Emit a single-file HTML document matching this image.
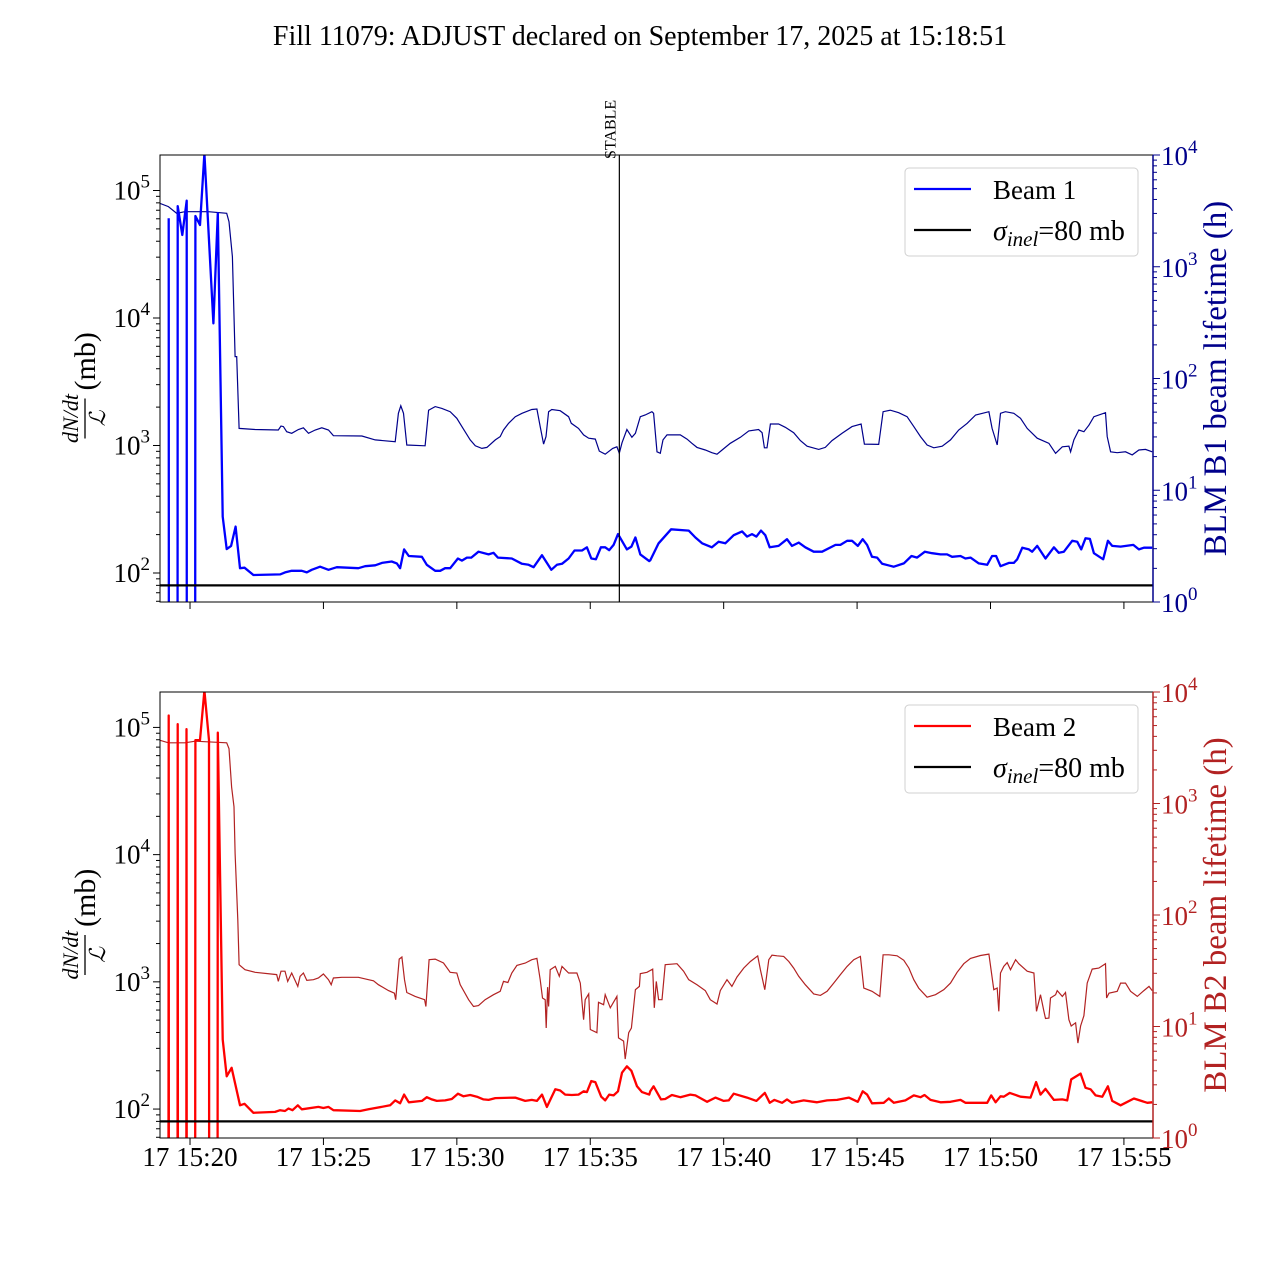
<!DOCTYPE html>
<html><head><meta charset="utf-8"><style>
html,body{margin:0;padding:0;background:#fff;width:1280px;height:1280px;overflow:hidden}
svg{display:block;font-family:"Liberation Serif","DejaVu Serif",serif}
</style></head><body>
<svg id="chart" width="1280" height="1280" viewBox="0 0 1280 1280" xmlns="http://www.w3.org/2000/svg">
<defs>
<clipPath id="clipTop"><rect x="160" y="155" width="993" height="447"/></clipPath>
<clipPath id="clipBot"><rect x="160" y="692" width="993" height="446"/></clipPath>
</defs>
<text x="640" y="45" font-size="28" text-anchor="middle">Fill 11079: ADJUST declared on September 17, 2025 at 15:18:51</text>
<g id="layer"></g>
</svg>
<script>
// time in minutes after 15:20:00
const tickMinutes=[0,5,10,15,20,25,30,35];
const tickLabels=["17 15:20","17 15:25","17 15:30","17 15:35","17 15:40","17 15:45","17 15:50","17 15:55"];
const sigmaInel=80;
const stableTime=16.09;
const b1RateT=[-0.8,-0.79,-0.47,-0.46,-0.29,-0.125,-0.12,0.19,0.2,0.375,0.54,0.875,1.04,1.225,1.375,1.54,1.71,1.875,2.04,2.375,3.375,3.56,3.81,4.19,4.375,4.56,4.875,5.19,5.5,6.31,6.56,6.94,7.19,7.56,7.75,7.875,8.025,8.2,8.69,8.875,9.19,9.375,9.56,9.75,10.04,10.19,10.375,10.54,10.81,11.19,11.375,11.54,12.06,12.44,12.69,12.875,13.19,13.54,13.75,13.94,14.19,14.41,14.69,14.875,15.04,15.21,15.4,15.56,15.71,15.875,16.04,16.375,16.54,16.69,16.875,17.21,17.25,17.56,18.03,18.69,18.94,19.19,19.56,19.81,20.06,20.375,20.69,20.875,21.06,21.225,21.4,21.56,21.725,22.06,22.375,22.56,22.81,23.06,23.375,23.69,24.19,24.375,24.625,24.81,25.025,25.21,25.375,25.56,25.75,25.94,26.375,26.75,27.04,27.25,27.54,27.81,28.125,28.375,28.56,28.875,29.06,29.25,29.56,29.875,30.06,30.21,30.375,30.69,30.875,31.0,31.19,31.44,31.56,31.75,32.06,32.375,32.56,32.75,33.06,33.25,33.4,33.56,33.725,33.875,34.225,34.4,34.56,34.875,35.35,35.56,35.75,36.06];
const b1RateV=[60500,1,1,75500,44800,83200,1,1,63100,53600,195000,9080,66200,277,154,163,231,109,110,96.5,97.5,101,104,104,101,106,112,106,111,109,113,115,120,123,119,109,153,136,134,116,104,104,109,109,130,125,132,132,147,140,144,132,130,118,116,111,138,106,116,118,130,150,150,159,130,128,159,159,151,166,202,153,161,190,140,124,126,171,220,215,190,171,159,176,171,198,212,193,202,193,215,198,159,163,184,163,173,159,147,147,166,166,179,179,163,184,166,134,132,118,112,119,136,132,147,143,140,140,134,136,130,132,119,116,136,136,113,120,120,128,158,153,147,163,130,159,144,147,179,176,153,187,185,143,128,179,163,161,166,153,158,158];
const b1LifeT=[-1.125,-0.81,-0.5,-0.19,0.69,1.375,1.46,1.59,1.69,1.75,1.84,2.44,3.31,3.41,3.5,3.625,3.81,4.06,4.25,4.44,4.69,4.94,5.19,5.375,6.44,6.94,7.69,7.81,7.9,8.0,8.125,8.81,8.94,9.19,9.44,9.75,10.0,10.19,10.5,10.69,10.94,11.125,11.44,11.625,11.75,11.94,12.19,12.44,12.81,13.0,13.125,13.25,13.34,13.44,13.56,13.875,14.19,14.29,14.56,14.75,14.94,15.19,15.34,15.56,15.84,16.0,16.09,16.19,16.375,16.56,16.69,16.875,17.06,17.31,17.375,17.5,17.625,17.725,17.875,18.375,18.625,18.81,19.0,19.31,19.56,19.75,19.94,20.25,20.625,20.94,21.31,21.44,21.525,21.625,21.75,22.06,22.31,22.625,22.875,23.125,23.56,23.81,24.06,24.44,24.81,25.15,25.275,25.81,25.975,26.25,26.56,26.875,27.125,27.375,27.625,27.875,28.19,28.5,28.81,29.125,29.44,29.94,30.06,30.25,30.375,30.56,30.875,31.125,31.375,31.75,32.19,32.44,32.69,32.94,33.0,33.125,33.31,33.5,33.69,33.875,34.31,34.375,34.5,34.75,35.06,35.31,35.56,35.81,36.06];
const b1LifeV=[3690,3450,3010,3110,3110,3010,2530,1230,157,157,35.8,35,34.6,37.6,37.1,33.4,32.3,35,36.2,32.3,34.6,36.2,34.6,30.8,30.6,28.2,27.2,48.8,57,48.8,25.4,25,52,56,54,50.5,44,37.1,28.2,25,23.7,24.2,28.2,30.2,34.6,39.7,45.5,48.8,52.8,53.3,37.1,25.9,30.2,50.5,52.8,51.5,45.5,39.7,35.8,31.3,29.2,28.7,22.4,21,23.7,24.5,21.4,26.6,35,29.8,32.3,45.5,47.1,50.5,48.8,22.1,21.4,28.2,31.3,31.3,28.7,26.3,24.2,22.9,21.7,21,22.9,26.3,29.8,34,35,32.7,24,24,39.2,39.2,36.6,32.7,27.8,24.8,23.2,24.2,27.8,32.3,37.1,39.2,25.9,25.7,50.5,52,49.4,45.5,37.1,30.2,25.4,24,24.8,28.2,34.6,39.7,47.1,50.5,35.8,25.4,48.8,50.5,48.8,44,35.8,29.2,26.3,21.4,24.5,24.8,22.1,28.2,34.6,33.4,38.3,45.5,49.4,30.2,22.1,21.7,22.1,20.7,22.9,23.2,22.1];
const b2RateT=[-0.81,-0.8,-0.79,-0.47,-0.46,-0.45,-0.14,-0.13,-0.12,0.19,0.2,0.375,0.54,0.71,0.72,1.03,1.04,1.225,1.375,1.56,1.875,2.04,2.375,3.19,3.375,3.56,3.69,3.84,4.04,4.19,4.81,5.0,5.19,5.375,6.375,6.69,7.5,7.69,7.875,8.025,8.2,8.69,8.875,9.06,9.25,9.56,9.81,10.04,10.25,10.5,10.75,11.0,11.19,11.44,12.19,12.56,12.81,13.0,13.19,13.375,13.69,13.875,14.06,14.31,14.56,14.75,14.875,15.04,15.19,15.41,15.56,15.71,15.875,16.04,16.19,16.375,16.54,16.75,16.94,17.21,17.25,17.375,17.65,17.81,18.06,18.375,18.75,18.94,19.375,19.69,20.0,20.19,20.375,20.875,21.225,21.54,21.725,21.9,22.19,22.375,22.56,23.0,23.5,23.875,24.25,24.69,25.025,25.21,25.375,25.56,26.0,26.19,26.375,26.81,27.125,27.375,27.525,27.75,28.125,28.5,28.875,29.06,29.875,30.025,30.19,30.375,30.5,30.725,31.125,31.5,31.71,31.875,32.06,32.375,32.69,32.875,33.025,33.375,33.56,33.75,33.94,34.19,34.4,34.56,34.875,35.06,35.375,35.875,36.06];
const b2RateV=[1,124000,1,1,106000,1,1,96900,1,1,79300,79300,195000,79300,1,1,90800,352,181,211,107,110,93.5,95,98,96.5,101,98,107,99.5,104,102,104,98,96.5,99.5,107,117,111,130,113,116,124,119,116,117,120,132,126,129,125,119,118,122,123,116,118,116,130,104,143,140,130,129,130,138,136,166,163,125,117,130,128,138,193,217,200,151,136,130,138,151,119,120,129,124,130,128,114,123,116,117,132,123,116,134,112,118,112,119,112,117,113,117,118,123,114,138,130,111,112,121,112,117,128,124,129,118,113,114,118,112,112,128,113,126,125,134,125,123,163,130,144,118,119,117,171,190,147,143,128,125,151,116,107,112,121,112,113];
const b2LifeT=[-1.125,-0.81,-0.19,0.19,1.375,1.46,1.56,1.65,1.69,1.79,1.84,2.06,2.44,3.25,3.31,3.41,3.56,3.66,3.81,4.04,4.125,4.25,4.375,4.625,4.81,5.0,5.19,5.29,5.375,5.69,6.31,6.69,6.875,7.06,7.44,7.66,7.71,7.84,7.94,8.04,8.125,8.44,8.79,8.84,8.96,9.19,9.5,9.75,10.0,10.125,10.44,10.625,10.81,11.06,11.375,11.625,11.75,11.915,12.06,12.25,12.44,12.56,12.81,13.0,13.125,13.21,13.31,13.35,13.4,13.44,13.5,13.69,13.84,13.94,14.19,14.5,14.625,14.75,14.81,14.94,15.0,15.25,15.31,15.5,15.56,15.75,16.0,16.06,16.25,16.31,16.44,16.54,16.69,16.84,16.875,17.125,17.34,17.4,17.475,17.56,17.69,17.81,18.25,18.5,18.69,19.0,19.31,19.5,19.75,19.875,20.125,20.31,20.5,20.75,21.0,21.275,21.375,21.54,21.69,21.81,22.0,22.25,22.44,22.625,22.81,23.06,23.375,23.625,23.875,24.125,24.375,24.625,24.875,25.125,25.25,25.56,25.85,25.975,26.19,26.5,26.75,26.94,27.125,27.31,27.625,27.94,28.25,28.5,28.75,29.0,29.25,29.625,29.94,30.125,30.25,30.31,30.375,30.5,30.625,30.75,30.94,31.06,31.375,31.625,31.725,31.875,32.0,32.06,32.19,32.25,32.44,32.5,32.69,32.81,32.94,33.025,33.19,33.275,33.375,33.5,33.625,33.81,34.06,34.31,34.35,34.44,34.75,34.875,35.06,35.25,35.5,35.75,35.94,36.06];
const b2LifeV=[3690,3500,3500,3620,3500,3110,1410,935,357,90.5,35.8,32.3,30.6,29.2,25.4,31.3,31.3,25.4,30.2,22.9,28.2,30.2,25.9,26.3,27.2,29.6,26.3,23.7,27.2,27.6,27.6,26.3,25.7,23.7,21,19.9,17.4,40.2,42,26.3,20.2,18.6,17.4,15.1,39.7,40.2,37.1,30.6,30.2,23.7,17.4,15.1,15.4,17.4,19.3,20.7,25.4,24.8,30.2,35.3,36.4,37,39.7,40.8,26.3,18,17.4,9.7,22.5,15.1,32.3,34.6,28.2,34.6,30.2,30.2,24.5,11.5,17.4,19.6,9.4,8.8,16.5,15.7,19.3,14.7,18.6,7.9,7.4,5.1,8.8,9.7,21.4,22.9,29.8,30.6,32.7,14.7,25.4,17.4,17.4,35.8,36.6,31.3,26.3,23.7,21,17.4,15.9,21,26.3,22.9,27.8,33.4,38.3,43,32.3,21.4,39.7,43.7,43.1,42.5,38.3,33.4,28.2,23.7,19.6,19,20.7,24.5,29.2,34.6,39.7,42.5,22.1,20.7,18.6,44,44,43.1,39.2,33.4,26.3,22.1,18.3,19.3,21.4,24.5,30.6,36.6,40.8,43.3,44.6,21.4,22.1,13.7,30.2,34.6,37.4,32.3,39.7,36.6,31.3,30.2,13.7,19.3,13.7,11.8,11.9,18,19.3,21,18.6,20.2,11.5,10.1,10.8,7.1,10.1,12.5,24.5,32.7,33.4,36.6,18,19.9,20.7,24.5,24.5,20.7,18.6,21,22.9,21];

const NS="http://www.w3.org/2000/svg";
const layer=document.getElementById('layer');
const X0=160,X1=1153,T0=-1.125,T1=36.09;
function xs(t){return X0+(t-T0)*(X1-X0)/(T1-T0);}
function mk(tag,attrs,parent){const e=document.createElementNS(NS,tag);for(const k in attrs)e.setAttribute(k,attrs[k]);(parent||layer).appendChild(e);return e;}
const panels=[
 {top:155,bot:602,lMin:1.7725,lMax:5.2784,rColor:"#00008b",rate:[b1RateT,b1RateV],life:[b1LifeT,b1LifeV],rc:"#0000ff",lc:"#00008b",label:"BLM B1 beam lifetime (h)",legend:"Beam 1",clip:"clipTop",name:"beam1"},
 {top:692,bot:1138,lMin:1.7725,lMax:5.2784,rColor:"#b22222",rate:[b2RateT,b2RateV],life:[b2LifeT,b2LifeV],rc:"#ff0000",lc:"#b22222",label:"BLM B2 beam lifetime (h)",legend:"Beam 2",clip:"clipBot",name:"beam2"}
];
panels.forEach((p,pi)=>{
 const yl=v=>p.bot-(Math.log10(Math.max(v,1e-3))-p.lMin)*(p.bot-p.top)/(p.lMax-p.lMin);
 const yr=v=>p.bot-Math.log10(v)*(p.bot-p.top)/4;
 const g=mk('g',{});
 
 
 const lp=p.life[0].map((t,i)=>(i?'L':'M')+xs(t).toFixed(1)+','+yr(p.life[1][i]).toFixed(1)).join('');
 const l1=mk('path',{d:lp,fill:'none',stroke:p.lc,'stroke-width':1.2,'clip-path':'url(#'+p.clip+')'},g);
 
 
 const rp=p.rate[0].map((t,i)=>(i?'L':'M')+xs(t).toFixed(1)+','+yl(p.rate[1][i]).toFixed(1)).join('');
 const l2=mk('path',{d:rp,fill:'none',stroke:p.rc,'stroke-width':2.3,'stroke-linejoin':'round','clip-path':'url(#'+p.clip+')'},g);
 
 
 const sl=mk('line',{x1:X0,x2:X1,y1:yl(sigmaInel),y2:yl(sigmaInel),stroke:'#000','stroke-width':2.2},g);
 
 
 if(pi===0){
  const sx=xs(stableTime);
  const st=mk('line',{x1:sx,x2:sx,y1:p.top,y2:p.bot,stroke:'#000','stroke-width':1.2},g);
  
  
  const stt=mk('text',{x:0,y:0,'font-size':16,transform:'translate('+(sx-4)+',159) rotate(-90)'},g);
  stt.textContent='STABLE';
  
  
 }
 const fr=mk('rect',{x:X0,y:p.top,width:X1-X0,height:p.bot-p.top,fill:'none',stroke:'#000','stroke-width':1},g);
 
 
 const ra=mk('line',{x1:X1,x2:X1,y1:p.top,y2:p.bot,stroke:p.rColor,'stroke-width':1.5},g);
 
 
 for(let d=1;d<=5;d++){for(let m=1;m<10;m++){const v=m*Math.pow(10,d);const y=yl(v);if(y<p.top-0.5||y>p.bot+0.5)continue;
  mk('line',{x1:X0,x2:X0-(m===1?7:4),y1:y,y2:y,stroke:'#000','stroke-width':1},g);
  if(m===1&&d>=2){const tx=mk('text',{x:X0-10,y:y+9,'font-size':27,'text-anchor':'end'},g);tx.innerHTML='10<tspan font-size="19" dy="-12">'+d+'</tspan>';
   
   }
 }}
 for(let d=0;d<=4;d++){for(let m=1;m<10;m++){const v=m*Math.pow(10,d);const y=yr(v);if(y<p.top-0.5||y>p.bot+0.5)continue;
  mk('line',{x1:X1,x2:X1+(m===1?7:4),y1:y,y2:y,stroke:p.rColor,'stroke-width':1},g);
  if(m===1){const tx=mk('text',{x:X1+8,y:y+10,'font-size':27,fill:p.rColor},g);tx.innerHTML='10<tspan font-size="19" dy="-12">'+d+'</tspan>';
   
   }
 }}
 tickMinutes.forEach((t,i)=>{const x=xs(t);mk('line',{x1:x,x2:x,y1:p.bot,y2:p.bot+7,stroke:'#000','stroke-width':1},g);
  if(pi===1){const tx=mk('text',{x:x,y:p.bot+28,'font-size':27,'text-anchor':'middle'},g);tx.textContent=tickLabels[i];
   
   }});
 const rl=mk('text',{x:0,y:0,'font-size':33,fill:p.rColor,'text-anchor':'middle',transform:'translate(1226,'+((p.top+p.bot)/2)+') rotate(-90)'},g);
 rl.textContent=p.label;
 
 
 const lg=mk('g',{transform:'translate(85,'+((p.top+p.bot)/2)+') rotate(-90)'},g);
 
 
 const nu=mk('text',{x:-40,y:-7,'font-size':22,'font-style':'italic','text-anchor':'middle'},lg);nu.textContent='dN/dt';
 mk('line',{x1:-60,x2:-20,y1:0,y2:0,stroke:'#000','stroke-width':1.3},lg);
 const de=mk('text',{x:-40,y:20,'font-size':22,'font-style':'italic','text-anchor':'middle'},lg);de.textContent='ℒ';
 const mb=mk('text',{x:-12,y:10,'font-size':30},lg);mb.textContent='(mb)';
 const L=mk('g',{},g);
 
 
 const ly=p.top+13;
 mk('rect',{x:905,y:ly,width:233,height:88,rx:4,fill:'#fff','fill-opacity':0.8,stroke:'#d0d0d0','stroke-width':1},L);
 mk('line',{x1:914,x2:971,y1:ly+21,y2:ly+21,stroke:p.rc,'stroke-width':2.2},L);
 const t1=mk('text',{x:993,y:ly+31,'font-size':27},L);t1.textContent=p.legend;
 
 
 mk('line',{x1:914,x2:971,y1:ly+62,y2:ly+62,stroke:'#000','stroke-width':2.2},L);
 const t2=mk('text',{x:993,y:ly+72,'font-size':28},L);t2.innerHTML='<tspan font-style="italic">σ</tspan><tspan font-style="italic" font-size="21" dy="6">inel</tspan><tspan dy="-6">=80 mb</tspan>';
 
 
});
</script>
</body></html>
